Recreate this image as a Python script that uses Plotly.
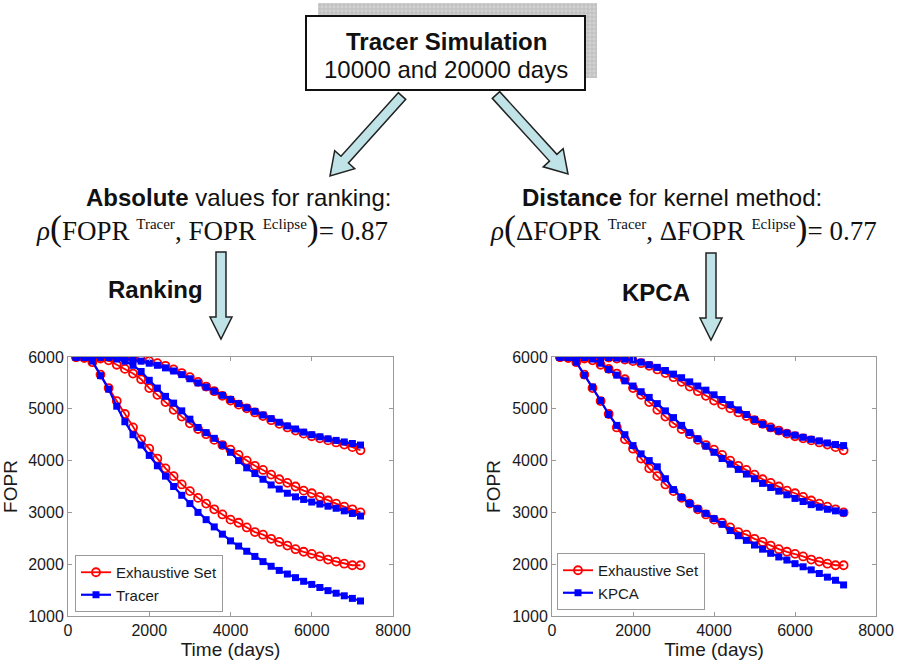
import math
import plotly.graph_objects as go

W, H = 901, 661

# ---------------- data ----------------
time_days = [200, 400, 600, 800, 1000, 1200, 1400, 1600, 1800, 2000, 2200, 2400,
             2600, 2800, 3000, 3200, 3400, 3600, 3800, 4000, 4200, 4400, 4600, 4800,
             5000, 5200, 5400, 5600, 5800, 6000, 6200, 6400, 6600, 6800, 7000, 7200]

# Exhaustive set (same in both panels)
exhaustive_top = [6000, 6000, 6000, 6000, 6000, 6000, 5990, 5970, 5950, 5920, 5880, 5830,
                  5760, 5690, 5610, 5520, 5430, 5340, 5250, 5160, 5080, 5010, 4930, 4860,
                  4780, 4710, 4640, 4580, 4520, 4470, 4430, 4390, 4350, 4310, 4260, 4200]
exhaustive_mid = [6000, 6000, 5990, 5970, 5935, 5850, 5770, 5680, 5570, 5400, 5270, 5130,
                  4980, 4850, 4720, 4610, 4510, 4400, 4300, 4210, 4110, 4000, 3900, 3820,
                  3730, 3640, 3570, 3500, 3420, 3370, 3300, 3230, 3170, 3110, 3060, 3000]
exhaustive_low = [6000, 5980, 5900, 5660, 5400, 5150, 4900, 4640, 4410, 4230, 4040, 3850,
                  3700, 3540, 3410, 3280, 3170, 3060, 2960, 2860, 2800, 2710, 2620, 2570,
                  2490, 2430, 2360, 2290, 2240, 2200, 2150, 2090, 2050, 2010, 1980, 1980]

# Tracer ranking
tracer_top = [6000, 6000, 6000, 6000, 6000, 5990, 5970, 5950, 5920, 5880, 5840, 5790,
              5730, 5660, 5580, 5500, 5420, 5340, 5260, 5180, 5100, 5020, 4950, 4880,
              4810, 4740, 4670, 4610, 4550, 4500, 4460, 4420, 4390, 4360, 4330, 4300]
tracer_mid = [6000, 6000, 6000, 5995, 5990, 5960, 5920, 5840, 5720, 5550, 5400, 5240,
              5110, 4960, 4800, 4640, 4540, 4430, 4300, 4160, 4000, 3860, 3750, 3640,
              3530, 3450, 3370, 3300, 3250, 3200, 3160, 3120, 3080, 3030, 2980, 2930]
tracer_low = [6000, 5990, 5920, 5640, 5380, 5050, 4750, 4500, 4300, 4100, 3900, 3700,
              3500, 3330, 3170, 3000, 2860, 2720, 2580, 2450, 2350, 2250, 2150, 2050,
              1960, 1880, 1810, 1740, 1670, 1610, 1550, 1490, 1440, 1390, 1340, 1290]

# KPCA selection
kpca_top = [6000, 6000, 6000, 6000, 6000, 6000, 5990, 5980, 5960, 5940, 5900, 5850,
            5800, 5740, 5670, 5600, 5520, 5440, 5360, 5270, 5180, 5080, 4980, 4890,
            4790, 4700, 4630, 4570, 4530, 4490, 4450, 4410, 4380, 4340, 4310, 4290]
kpca_mid = [6000, 6000, 6000, 5990, 5960, 5880, 5760, 5650, 5540, 5440, 5330, 5220,
            5100, 4960, 4830, 4680, 4540, 4420, 4280, 4160, 4040, 3930, 3830, 3740,
            3650, 3560, 3480, 3410, 3340, 3270, 3210, 3150, 3100, 3060, 3030, 2990]
kpca_low = [6000, 5990, 5900, 5650, 5420, 5160, 4890, 4680, 4500, 4290, 4130, 4000,
            3880, 3650, 3440, 3290, 3170, 3070, 2980, 2880, 2770, 2650, 2550, 2460,
            2370, 2290, 2210, 2140, 2080, 2010, 1950, 1890, 1820, 1750, 1690, 1600]

x_ticks = [0, 2000, 4000, 6000, 8000]
y_ticks = [1000, 2000, 3000, 4000, 5000, 6000]

RED = "#ff0000"
BLUE = "#0000ff"
SANS = "Liberation Sans, Arial, sans-serif"
SERIF = "Liberation Serif, Times New Roman, serif"

fig = go.Figure()


def add_series(curves, name, color, xa, ya, legend, group, red):
    for i, yv in enumerate(curves):
        if red:
            marker = dict(symbol="circle-open", size=8, color=color, line=dict(width=1.8, color=color))
            line = dict(color=color, width=1.8)
        else:
            marker = dict(symbol="square", size=7, color=color)
            line = dict(color=color, width=2.2)
        fig.add_trace(go.Scatter(
            x=time_days, y=yv, mode="lines+markers", name=name,
            line=line, marker=marker, xaxis=xa, yaxis=ya,
            legend=legend, legendgroup=group, showlegend=(i == 0)))


add_series([exhaustive_top, exhaustive_mid, exhaustive_low], "Exhaustive Set", RED, "x", "y", "legend", "ex1", True)
add_series([tracer_top, tracer_mid, tracer_low], "Tracer", BLUE, "x", "y", "legend", "tr", False)
add_series([exhaustive_top, exhaustive_mid, exhaustive_low], "Exhaustive Set", RED, "x2", "y2", "legend2", "ex2", True)
add_series([kpca_top, kpca_mid, kpca_low], "KPCA", BLUE, "x2", "y2", "legend2", "kp", False)


def px(x, y):
    return x / W, 1 - y / H


axis_common = dict(showgrid=False, zeroline=False, showline=True, linecolor="#9a9a9a",
                   linewidth=1, mirror="ticks", ticks="inside", ticklen=4, automargin=False,
                   tickcolor="#9a9a9a", tickfont=dict(size=16, family=SANS, color="#1a1a1a"))

yb, yt = 1 - 616 / H, 1 - 357 / H
legend_common = dict(xanchor="left", yanchor="bottom", bgcolor="white",
                     bordercolor="#9a9a9a", borderwidth=1, font=dict(size=15, family=SANS),
                     tracegroupgap=0, itemwidth=30)

fig.update_layout(
    width=W, height=H, margin=dict(l=0, r=0, t=0, b=0),
    paper_bgcolor="white", plot_bgcolor="white", hovermode=False,
    font=dict(family=SANS, color="#1a1a1a"),
    xaxis=dict(domain=[68 / W, 393 / W], range=[0, 8000], tickvals=x_ticks, anchor="y",
               title=dict(text="Time (days)", font=dict(size=19, family=SANS), standoff=2), **axis_common),
    yaxis=dict(domain=[yb, yt], range=[1000, 6000], tickvals=y_ticks, anchor="x",
               title=dict(text="FOPR", font=dict(size=19, family=SANS), standoff=6), **axis_common),
    xaxis2=dict(domain=[552 / W, 876 / W], range=[0, 8000], tickvals=x_ticks, anchor="y2",
                title=dict(text="Time (days)", font=dict(size=19, family=SANS), standoff=2), **axis_common),
    yaxis2=dict(domain=[yb, yt], range=[1000, 6000], tickvals=y_ticks, anchor="x2",
                title=dict(text="FOPR", font=dict(size=19, family=SANS), standoff=6), **axis_common),
    legend=dict(x=75 / W, y=1 - 612 / H, **legend_common),
    legend2=dict(x=557 / W, y=1 - 610 / H, **legend_common),
)

# ---------------- decorations ----------------
ARROW_FILL = "#bfe3e6"


def arrow_path(x0, y0, x1, y1, sw, hw, hl):
    dx, dy = x1 - x0, y1 - y0
    L = math.hypot(dx, dy)
    ux, uy = dx / L, dy / L
    nx, ny = -uy, ux
    bx, by = x1 - ux * hl, y1 - uy * hl
    pts = [(x0 + nx * sw / 2, y0 + ny * sw / 2), (bx + nx * sw / 2, by + ny * sw / 2),
           (bx + nx * hw / 2, by + ny * hw / 2), (x1, y1),
           (bx - nx * hw / 2, by - ny * hw / 2), (bx - nx * sw / 2, by - ny * sw / 2),
           (x0 - nx * sw / 2, y0 - ny * sw / 2)]
    s = ""
    for k, (a, b) in enumerate(pts):
        pa, pb = px(a, b)
        s += ("M" if k == 0 else "L") + f"{pa:.5f},{pb:.5f} "
    return s + "Z"


shapes = []
for (x0, y0, x1, y1, sw, hw, hl) in [(402, 96, 330, 176, 10, 27, 22),
                                      (496, 95, 568, 174, 10, 27, 22),
                                      (221, 252, 221, 339, 10, 22, 22),
                                      (711, 253, 711, 340, 10, 22, 22)]:
    shapes.append(dict(type="path", path=arrow_path(x0, y0, x1, y1, sw, hw, hl),
                       xref="paper", yref="paper", fillcolor=ARROW_FILL,
                       line=dict(color="#222222", width=1.5), layer="above"))

# shadow and box
sx0, sy0 = px(318, 3)
sx1, sy1 = px(597, 78)
shapes.append(dict(type="rect", xref="paper", yref="paper", x0=sx0, y0=sy0, x1=sx1, y1=sy1,
                   fillcolor="#d2d2d2", line=dict(width=0), layer="above"))
for gx in range(320, 597, 4):
    a, _ = px(gx, 0)
    shapes.append(dict(type="line", xref="paper", yref="paper", x0=a, x1=a, y0=sy0, y1=sy1,
                       line=dict(color="#bdbdbd", width=1), layer="above"))
for gy in range(5, 78, 4):
    _, b = px(0, gy)
    shapes.append(dict(type="line", xref="paper", yref="paper", x0=sx0, x1=sx1, y0=b, y1=b,
                       line=dict(color="#bdbdbd", width=1), layer="above"))
bx0, by0 = px(306, 16)
bx1, by1 = px(585, 90)
shapes.append(dict(type="rect", xref="paper", yref="paper", x0=bx0, y0=by0, x1=bx1, y1=by1,
                   fillcolor="white", line=dict(color="#111111", width=2), layer="above"))
fig.update_layout(shapes=shapes)


def ann(x, y, text, size, family=SANS, xanchor="center"):
    a, b = px(x, y)
    fig.add_annotation(x=a, y=b, xref="paper", yref="paper", text=text, showarrow=False,
                       xanchor=xanchor, yanchor="middle",
                       font=dict(size=size, family=family, color="#111111"))


ann(446, 41, "<b>Tracer Simulation</b>", 24)
ann(446, 69, "10000 and 20000 days", 24)
ann(238, 197, "<b>Absolute</b> values for ranking:", 24)
ann(672, 197, "<b>Distance</b> for kernel method:", 24)
ann(155, 289, "<b>Ranking</b>", 24)
ann(656, 292, "<b>KPCA</b>", 24)

SUPS = "<sup><span style='font-size:15px'>%s</span></sup>"
PAR = "<span style='font-size:36px'>%s</span>"
formula_left = ("<i>ρ</i>" + PAR % "(" + "FOPR " + SUPS % "Tracer" + ", FOPR " + SUPS % "Eclipse"
                + PAR % ")" + "= 0.87")
formula_right = ("<i>ρ</i>" + PAR % "(" + "ΔFOPR " + SUPS % "Tracer" + ", ΔFOPR " + SUPS % "Eclipse"
                 + PAR % ")" + "= 0.77")
ann(212, 228, formula_left, 27, SERIF)
ann(683, 228, formula_right, 27, SERIF)

fig.write_html("out.html", config={"displayModeBar": False},
               post_script="document.body.style.margin='0';document.body.style.overflow='hidden';")
